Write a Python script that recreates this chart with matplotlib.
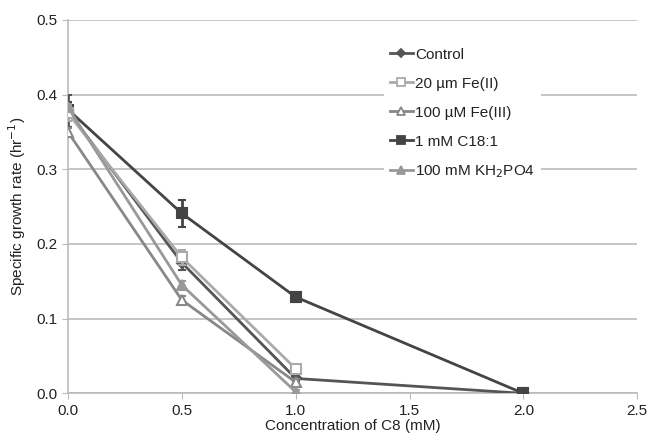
import numpy as np
import matplotlib.pyplot as plt
from matplotlib.lines import Line2D

plt.rcParams['font.family'] = ['Liberation Sans', 'DejaVu Sans']

conc_short = [0.0, 0.5, 1.0]
conc_long = [0.0, 0.5, 1.0, 2.0]

control = [0.378, 0.175, 0.020, 0.0]
control_err = [0.022, 0.01, 0.004, 0.0]
fe2 = [0.375, 0.182, 0.033]
fe2_err = [0.01, 0.01, 0.004]
fe3 = [0.350, 0.125, 0.015]
fe3_err = [0.005, 0.005, 0.004]
c18 = [0.380, 0.241, 0.129, 0.0]
c18_err = [0.01, 0.018, 0.006, 0.0]
kh2po4 = [0.383, 0.145, 0.002]
kh2po4_err = [0.005, 0.005, 0.002]

series = [
    (conc_long, control, control_err, '#555555', 'D', 5, None, 'Control', 3),
    (conc_short, fe2, fe2_err, '#aaaaaa', 's', 7, 'white', '20 µm Fe(II)', 4),
    (conc_short, fe3, fe3_err, '#888888', '^', 7, 'white', '100 µM Fe(III)', 4),
    (conc_long, c18, c18_err, '#444444', 's', 7, None, '1 mM C18:1', 3),
    (conc_short, kh2po4, kh2po4_err, '#999999', '^', 7, None, '100 mM KH$_2$PO4', 4),
]

fig, ax = plt.subplots(figsize=(6.47, 4.42), dpi=100)
fig.subplots_adjust(left=0.105, right=0.985, top=0.955, bottom=0.11)

handles = []
for x, y, err, col, mk, ms, mfc, lab, z in series:
    ax.errorbar(x, y, yerr=err, color=col, marker=mk, markersize=ms,
                markerfacecolor=mfc if mfc else col, mew=1.5, lw=2, capsize=3, zorder=z)
    handles.append(Line2D([], [], color=col, marker=mk, markersize=ms - 1,
                          markerfacecolor=mfc if mfc else col, mew=1.3, lw=2, label=lab))

ax.set_xlim(0, 2.5)
ax.set_ylim(0, 0.5)
ax.set_xticks(np.arange(0, 2.51, 0.5))
ax.set_yticks(np.arange(0, 0.51, 0.1))
ax.set_xticklabels([f'{v:.1f}' for v in np.arange(0, 2.51, 0.5)])
ax.set_yticklabels([f'{v:.1f}' for v in np.arange(0, 0.51, 0.1)])
ax.tick_params(labelsize=11, length=4, color='#bbbbbb', labelcolor='#222222')
ax.grid(axis='y', color='#bbbbbb', lw=1.2)
ax.set_axisbelow(True)
for side in ['top', 'right']:
    ax.spines[side].set_visible(False)
ax.spines['left'].set_color('#bbbbbb')
ax.spines['bottom'].set_color('#bbbbbb')
ax.spines['left'].set_linewidth(1.2)
ax.spines['bottom'].set_linewidth(1.2)

ax.set_xlabel('Concentration of C8 (mM)', fontsize=11, labelpad=1, color='#222222')
ax.set_ylabel('Specific growth rate (hr$^{-1}$)', fontsize=11, labelpad=6, color='#222222')

leg = ax.legend(handles=handles, loc='upper left', bbox_to_anchor=(0.555, 0.942),
                borderaxespad=0, frameon=True, fontsize=11,
                handlelength=1.5, handletextpad=0.15, labelspacing=0.98, borderpad=0.4)
leg.get_frame().set_edgecolor('none')
leg.get_frame().set_facecolor('white')
leg.get_frame().set_alpha(1)
for t in leg.get_texts():
    t.set_color('#222222')

fig.savefig('out.png', dpi=100)
